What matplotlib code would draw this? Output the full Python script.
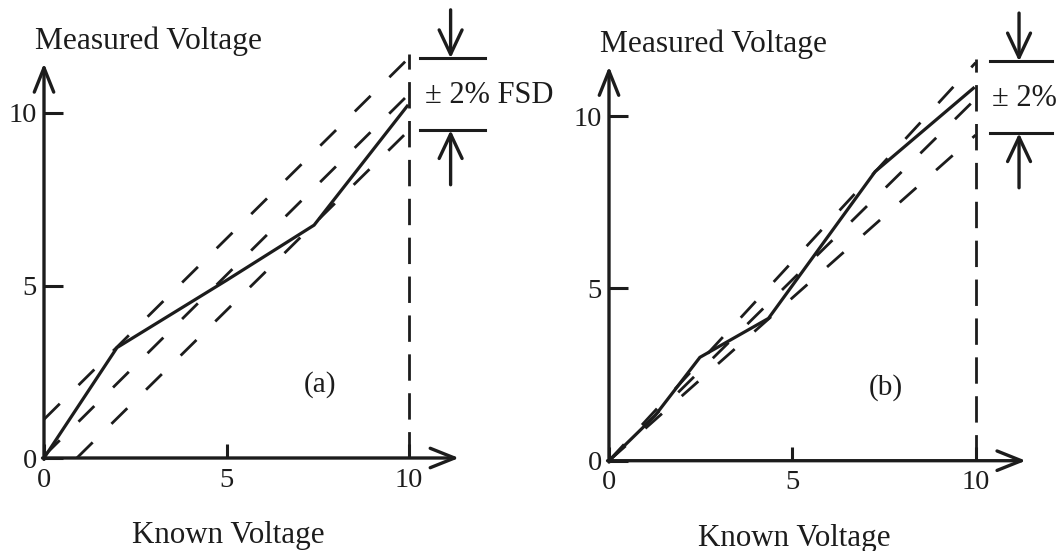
import matplotlib
matplotlib.use('Agg')
import matplotlib.pyplot as plt

plt.rcParams['font.family'] = ['Liberation Serif', 'DejaVu Serif']

# ---- data ----
ticks = [0, 5, 10]
tick_labels = ['0', '5', '10']
full_scale = 10

# (a) offset type error
xa_meas = [0, 2.0, 5.0, 7.4, 9.95]
ya_meas = [0, 3.2, 5.15, 6.75, 10.2]
xa_up, ya_up = [0, 10], [1.12, 11.6]
xa_mid, ya_mid = [0, 10], [0.06, 10.55]
xa_low, ya_low = [0.9, 10], [0.0, 9.5]

# (b) gain type error
xb_meas = [0, 1.25, 2.48, 4.35, 7.26, 9.94]
yb_meas = [0, 1.3, 3.0, 4.13, 8.39, 10.81]
xb_up, yb_up = [0, 10], [0, 11.55]
xb_mid, yb_mid = [0, 10], [0, 10.5]
xb_low, yb_low = [0, 10], [0, 9.45]

INK = '#1c1c1c'
W, H = 1061, 551
fig = plt.figure(figsize=(W / 100, H / 100), dpi=100)


def make_axes(ox, oy, sx, sy, xlim, ylim):
    # ox, oy = pixel position of the origin, sx, sy = pixels per volt
    left = ox + xlim[0] * sx
    right = ox + xlim[1] * sx
    top = oy - ylim[1] * sy
    bottom = oy - ylim[0] * sy
    ax = fig.add_axes([left / W, (H - bottom) / H, (right - left) / W, (bottom - top) / H])
    ax.set_xlim(xlim)
    ax.set_ylim(ylim)
    ax.patch.set_visible(False)
    return ax


def arrow(ax, x0, y0, x1, y1, hw=0.28):
    ax.annotate('', xy=(x1, y1), xytext=(x0, y0),
                arrowprops=dict(arrowstyle='->,head_length=0.7,head_width=%g' % hw,
                                lw=2.4, color=INK, shrinkA=0, shrinkB=0,
                                mutation_scale=25))


def draw_panel(ax, xm, ym, dashed, tag, note, bar_x, top_y):
    for sp in ax.spines.values():
        sp.set_visible(False)
    ax.spines['left'].set_position(('data', 0))
    ax.spines['bottom'].set_position(('data', 0))

    # axes with open arrow heads
    arrow(ax, -0.04, 0, 11.37, 0)
    arrow(ax, 0, -0.04, 0, 11.44)

    ax.set_xticks(ticks, tick_labels)
    ax.set_yticks(ticks, tick_labels)
    ax.tick_params(axis='x', direction='in', length=10, width=2.2, pad=7,
                   labelsize=20.5, color=INK, labelcolor=INK)
    ax.tick_params(axis='y', direction='in', length=14, width=2.2, pad=5,
                   labelsize=20.5, color=INK, labelcolor=INK)

    # error band (dashed) and measured curve (solid)
    for xd, yd in dashed:
        ax.plot(xd, yd, color=INK, lw=2.0, dashes=(8.0, 9.5), clip_on=False)
    ax.plot(xm, ym, color=INK, lw=2.3, solid_joinstyle='miter', clip_on=False)

    # full scale marker
    ax.plot([full_scale, full_scale], [0, top_y], color=INK, lw=2.0,
            dashes=(9.5, 4.5), clip_on=False)

    # +/- 2% bracket
    ax.plot(bar_x, [11.59, 11.59], color=INK, lw=2.2, clip_on=False)
    ax.plot(bar_x, [9.5, 9.5], color=INK, lw=2.2, clip_on=False)
    mid = (bar_x[0] + bar_x[1]) / 2 - 0.05
    arrow(ax, mid, 12.99, mid, 11.59, hw=0.33)
    arrow(ax, mid, 7.92, mid, 9.5, hw=0.33)
    ax.text(10.44, 10.52, note, fontsize=22, color=INK, ha='left', va='center')

    ax.text(-0.25, 11.86, 'Measured Voltage', fontsize=22.7, color=INK,
            ha='left', va='baseline')
    ax.text(5.05, -2.25, 'Known Voltage', fontsize=22.3, color=INK,
            ha='center', va='center')
    ax.text(7.55, 2.12, tag, fontsize=21, color=INK, ha='center', va='center')


ax_a = make_axes(44, 458, 36.5, 34.5, (-1.2, 12.5), (-2.6, 13.2))
draw_panel(ax_a, xa_meas, ya_meas,
           [(xa_up, ya_up), (xa_mid, ya_mid), (xa_low, ya_low)],
           '(a)', '± 2% FSD', [10.3, 12.08], 11.7)

ax_b = make_axes(609, 460.7, 36.66, 34.46, (-1.2, 12.3), (-2.6, 13.2))
draw_panel(ax_b, xb_meas, yb_meas,
           [(xb_up, yb_up), (xb_mid, yb_mid), (xb_low, yb_low)],
           '(b)', '± 2%', [10.39, 12.08], 11.67)

fig.savefig('out.png', dpi=100, facecolor='white')
